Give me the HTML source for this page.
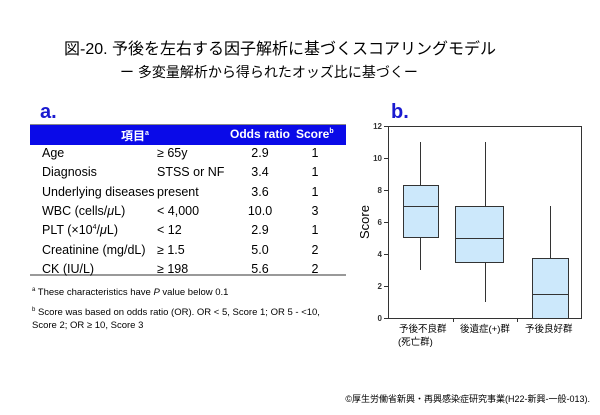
<!DOCTYPE html>
<html><head><meta charset="utf-8"><style>
body{margin:0;width:600px;height:415px;background:#fff;position:relative;font-family:"Liberation Sans","Noto Sans CJK JP",sans-serif;overflow:hidden}
.a{position:absolute;white-space:nowrap}
.r{position:absolute;white-space:nowrap;font-size:12.5px;line-height:16px;height:16px}
sup{line-height:0}
</style></head><body>
<div class="a" style="left:64px;top:35px;font-size:16px">図-20. 予後を左右する因子解析に基づくスコアリングモデル</div>
<div class="a" style="left:120px;top:62px;font-size:14px">ー 多変量解析から得られたオッズ比に基づくー</div>
<div class="a" style="left:40px;top:101px;font-size:20px;font-weight:bold;color:#1a1ad0">a.</div>
<div class="a" style="left:30px;top:124px;width:316px;height:20px;background:#0a0ae8;border-top:1px solid #888"></div>
<div class="a" style="left:121px;top:127px;font-size:12px;font-weight:bold;color:#fff">項目<sup style="font-size:7px">a</sup></div>
<div class="a" style="left:230px;top:127px;font-size:12px;font-weight:bold;color:#fff">Odds ratio</div>
<div class="a" style="left:296px;top:127px;font-size:12px;font-weight:bold;color:#fff">Score<sup style="font-size:7px">b</sup></div>
<div class="a" style="left:30px;top:274px;width:316px;height:2px;background:#999"></div>

<div class="r" style="left:42px;top:145px">Age</div>
<div class="r" style="left:42px;top:164px">Diagnosis</div>
<div class="r" style="left:42px;top:184px">Underlying diseases</div>
<div class="r" style="left:42px;top:203px">WBC (cells/<i>μ</i>L)</div>
<div class="r" style="left:42px;top:222px">PLT (×10<sup style="font-size:7px">4</sup>/<i>μ</i>L)</div>
<div class="r" style="left:42px;top:242px">Creatinine (mg/dL)</div>
<div class="r" style="left:42px;top:261px">CK (IU/L)</div>

<div class="r" style="left:157px;top:145px">≥ 65y</div>
<div class="r" style="left:157px;top:164px">STSS or NF</div>
<div class="r" style="left:157px;top:184px">present</div>
<div class="r" style="left:157px;top:203px">&lt; 4,000</div>
<div class="r" style="left:157px;top:222px">&lt; 12</div>
<div class="r" style="left:157px;top:242px">≥ 1.5</div>
<div class="r" style="left:157px;top:261px">≥ 198</div>

<div class="r" style="left:240px;top:145px;width:40px;text-align:center">2.9</div>
<div class="r" style="left:240px;top:164px;width:40px;text-align:center">3.4</div>
<div class="r" style="left:240px;top:184px;width:40px;text-align:center">3.6</div>
<div class="r" style="left:240px;top:203px;width:40px;text-align:center">10.0</div>
<div class="r" style="left:240px;top:222px;width:40px;text-align:center">2.9</div>
<div class="r" style="left:240px;top:242px;width:40px;text-align:center">5.0</div>
<div class="r" style="left:240px;top:261px;width:40px;text-align:center">5.6</div>

<div class="r" style="left:305px;top:145px;width:20px;text-align:center">1</div>
<div class="r" style="left:305px;top:164px;width:20px;text-align:center">1</div>
<div class="r" style="left:305px;top:184px;width:20px;text-align:center">1</div>
<div class="r" style="left:305px;top:203px;width:20px;text-align:center">3</div>
<div class="r" style="left:305px;top:222px;width:20px;text-align:center">1</div>
<div class="r" style="left:305px;top:242px;width:20px;text-align:center">2</div>
<div class="r" style="left:305px;top:261px;width:20px;text-align:center">2</div>

<div class="a" style="left:32px;top:287px;font-size:9.5px"><sup style="font-size:6px">a</sup> These characteristics have <i>P</i> value below 0.1</div>
<div class="a" style="left:32px;top:306px;font-size:9.5px;line-height:13px"><sup style="font-size:6px">b</sup> Score was based on odds ratio (OR). OR &lt; 5, Score 1; OR 5 - &lt;10,<br>Score 2; OR ≥ 10, Score 3</div>
<div class="a" style="left:391px;top:101px;font-size:20px;font-weight:bold;color:#1a1ad0">b.</div>
<svg class="a" style="left:0;top:0" width="600" height="415">
<g stroke="#333" fill="none" stroke-width="1">
<rect x="388.5" y="126.5" width="193" height="192"/>
<line x1="384" y1="126.5" x2="388" y2="126.5"/><line x1="384" y1="158.5" x2="388" y2="158.5"/><line x1="384" y1="190.5" x2="388" y2="190.5"/><line x1="384" y1="222.5" x2="388" y2="222.5"/><line x1="384" y1="254.5" x2="388" y2="254.5"/><line x1="384" y1="286.5" x2="388" y2="286.5"/><line x1="384" y1="318.5" x2="388" y2="318.5"/>
<line x1="453.5" y1="318" x2="453.5" y2="322"/><line x1="517.5" y1="318" x2="517.5" y2="322"/>
<line x1="420.5" y1="142" x2="420.5" y2="270"/>
<line x1="485.5" y1="142" x2="485.5" y2="302"/>
<line x1="550.5" y1="206" x2="550.5" y2="318"/>
</g>
<g stroke="#333" fill="#cce8fb">
<rect x="403.5" y="185.5" width="35" height="52"/>
<rect x="455.5" y="206.5" width="48" height="56"/>
<rect x="532.5" y="258.5" width="36" height="60"/>
</g>
<g stroke="#333"><line x1="403" y1="206.5" x2="438" y2="206.5"/><line x1="455" y1="238.5" x2="503" y2="238.5"/><line x1="532" y1="294.5" x2="568" y2="294.5"/></g>
<g font-size="8" font-family="Liberation Sans,sans-serif" text-anchor="end" font-weight="bold" fill="#333">
<text x="382" y="129">12</text><text x="382" y="161">10</text><text x="382" y="193">8</text><text x="382" y="225">6</text><text x="382" y="257">4</text><text x="382" y="289">2</text><text x="382" y="321">0</text></g>
<text transform="translate(369,222) rotate(-90)" font-size="13" text-anchor="middle" font-family="Liberation Sans,sans-serif">Score</text>
<g font-size="9.5" font-family="Liberation Sans,Noto Sans CJK JP,sans-serif">
<text x="399" y="332">予後不良群</text><text x="398" y="345">(死亡群)</text>
<text x="460" y="332">後遺症(+)群</text><text x="525" y="332">予後良好群</text></g>
<text x="590" y="402" font-size="9" text-anchor="end" font-family="Liberation Sans,Noto Sans CJK JP,sans-serif">©厚生労働省新興・再興感染症研究事業(H22-新興-一般-013).</text>
</svg>
</body></html>
